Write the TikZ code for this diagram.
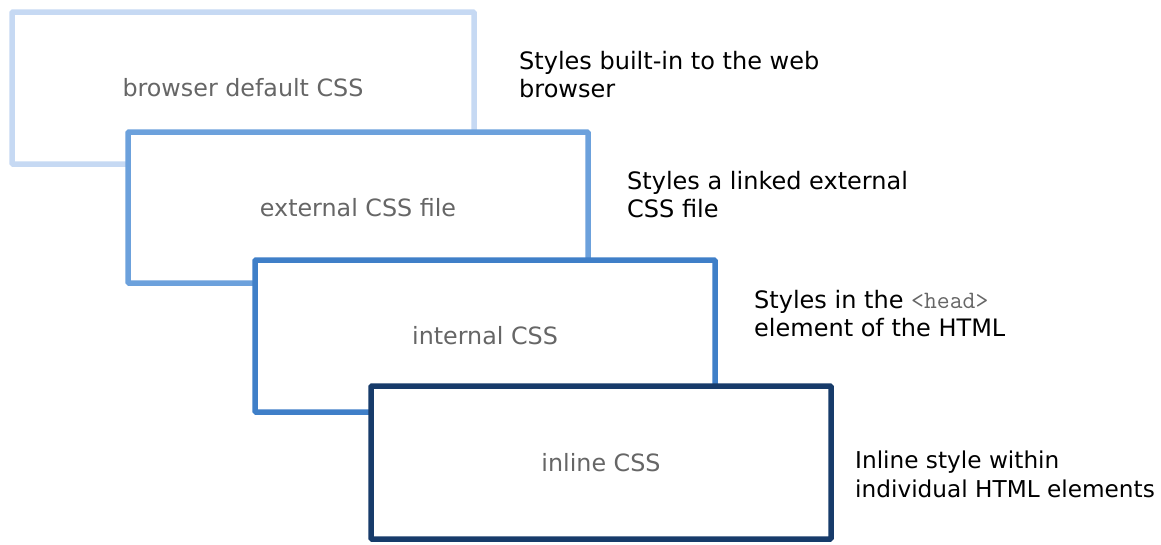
\documentclass[tikz,border=0pt]{standalone}
\usepackage{fontspec}
\setmainfont{DejaVu Sans}
\definecolor{cOne}{HTML}{C6D9F3}
\definecolor{cTwo}{HTML}{6CA1DC}
\definecolor{cThree}{HTML}{3F7FC8}
\definecolor{cFour}{HTML}{173B6A}
\definecolor{labgray}{HTML}{666666}
\tikzset{
  layer/.style={draw=#1, line width=5.5pt, fill=white, rectangle, rounded corners=1pt,
    minimum width=460pt, minimum height=152pt, inner sep=0pt,
    font=\fontsize{23.8}{28}\selectfont, text=labgray},
  desc/.style={anchor=north west, align=left, inner sep=0pt,
    font=\fontsize{24}{28.5}\selectfont, text=black}
}
\begin{document}
\begin{tikzpicture}[x=1pt,y=-1pt]
\useasboundingbox (0,0) rectangle (1161,544);
\node[layer=cOne, minimum width=462pt] (b1) at (243,88) {browser default CSS};
\node[layer=cTwo, minimum height=151pt] (b2) at (358,207.5) {external CSS file};
\node[layer=cThree] (b3) at (485,336) {internal CSS};
\node[layer=cFour, minimum height=153pt] (b4) at (601,462.5) {inline CSS};
\node[desc] (t1) at (519,51) {Styles built-in to the web\\browser};
\node[desc] (t2) at (627,171) {Styles a linked external\\CSS file};
\node[desc] (t3) at (754,290) {Styles in the {\ttfamily\fontsize{25}{28.5}\selectfont\color{labgray}<head>}\\element of the HTML};
\node[desc, font=\fontsize{23.2}{28.5}\selectfont] (t4) at (855,451) {Inline style within\\individual HTML elements};
\end{tikzpicture}
\end{document}
